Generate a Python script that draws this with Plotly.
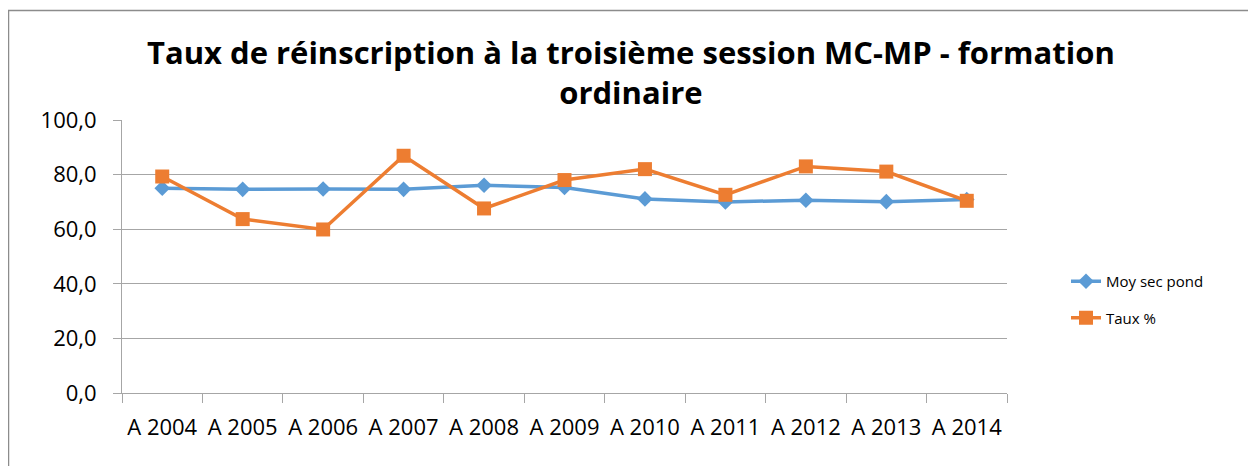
import plotly.graph_objects as go

categories = ["A 2004", "A 2005", "A 2006", "A 2007", "A 2008", "A 2009",
              "A 2010", "A 2011", "A 2012", "A 2013", "A 2014"]
moy_sec_pond = [75.0, 74.6, 74.7, 74.6, 76.1, 75.3, 71.1, 70.0, 70.6, 70.1, 70.9]
taux_pct = [79.3, 63.7, 59.9, 86.9, 67.6, 78.0, 82.0, 72.6, 83.0, 81.1, 70.4]

title_text = "Taux de réinscription à la troisième session MC-MP - formation<br>ordinaire"

BLUE = "#5B9BD5"
ORANGE = "#ED7D31"
GRID = "#A6A6A6"
FONT = "Open Sans"

fig = go.Figure()
fig.add_trace(go.Scatter(
    x=categories, y=moy_sec_pond, name="Moy sec pond", mode="lines+markers",
    line=dict(color=BLUE, width=3.5),
    marker=dict(symbol="diamond", size=12, color=BLUE),
    legendgroup="a",
))
fig.add_trace(go.Scatter(
    x=categories, y=taux_pct, name="Taux %", mode="lines+markers",
    line=dict(color=ORANGE, width=3.5),
    marker=dict(symbol="square", size=14, color=ORANGE),
    legendgroup="b",
))

# page has an 8px body margin, so figure is 8px smaller
W, H = 1248, 458
L, R, T, B = 114, 249, 112, 73
pw, ph = W - L - R, H - T - B

def px_x(x):
    return (x - L) / pw

def px_y(y):
    return (H - B - y) / ph

fig.update_layout(
    width=W, height=H,
    margin=dict(l=L, r=R, t=T, b=B, autoexpand=False),
    paper_bgcolor="white", plot_bgcolor="white",
    separators=", ",
    font=dict(family=FONT, color="black"),
    showlegend=True,
    legend=dict(
        x=px_x(1058), xanchor="left", y=px_y(257), yanchor="top",
        font=dict(family=FONT, size=15, color="black"),
        traceorder="grouped", tracegroupgap=14,
        bgcolor="rgba(0,0,0,0)",
    ),
    xaxis=dict(
        type="category",
        tickson="boundaries",
        ticks="outside", ticklen=9, tickcolor=GRID, tickwidth=1,
        showgrid=False,
        showline=True, linecolor=GRID, linewidth=1,
        tickfont=dict(family=FONT, size=22, color="black"),
        tickangle=0,
        ticklabelstandoff=15,
        range=[-0.5, len(categories) - 0.5],
        fixedrange=True,
    ),
    yaxis=dict(
        range=[0, 100], dtick=20, tick0=0,
        tickformat=".1f",
        ticks="outside", ticklen=8, tickcolor=GRID, tickwidth=1,
        showgrid=True, gridcolor=GRID, gridwidth=1,
        showline=True, linecolor=GRID, linewidth=1,
        zeroline=False,
        tickfont=dict(family=FONT, size=22, color="black"),
        ticklabelstandoff=12,
        fixedrange=True,
    ),
    annotations=[dict(
        text=title_text, showarrow=False,
        xref="paper", yref="paper",
        x=px_x(623), xanchor="center",
        y=px_y(21), yanchor="top",
        font=dict(family=FONT, size=31, color="black", weight="bold"),
        align="center",
    )],
    shapes=[dict(
        type="rect", xref="paper", yref="paper",
        x0=px_x(0.5), x1=px_x(1246), y0=px_y(470), y1=px_y(2.5),
        line=dict(color="#8C8C8C", width=1.5), fillcolor="rgba(0,0,0,0)",
        layer="below",
    )],
)

fig.write_html("out.html")
